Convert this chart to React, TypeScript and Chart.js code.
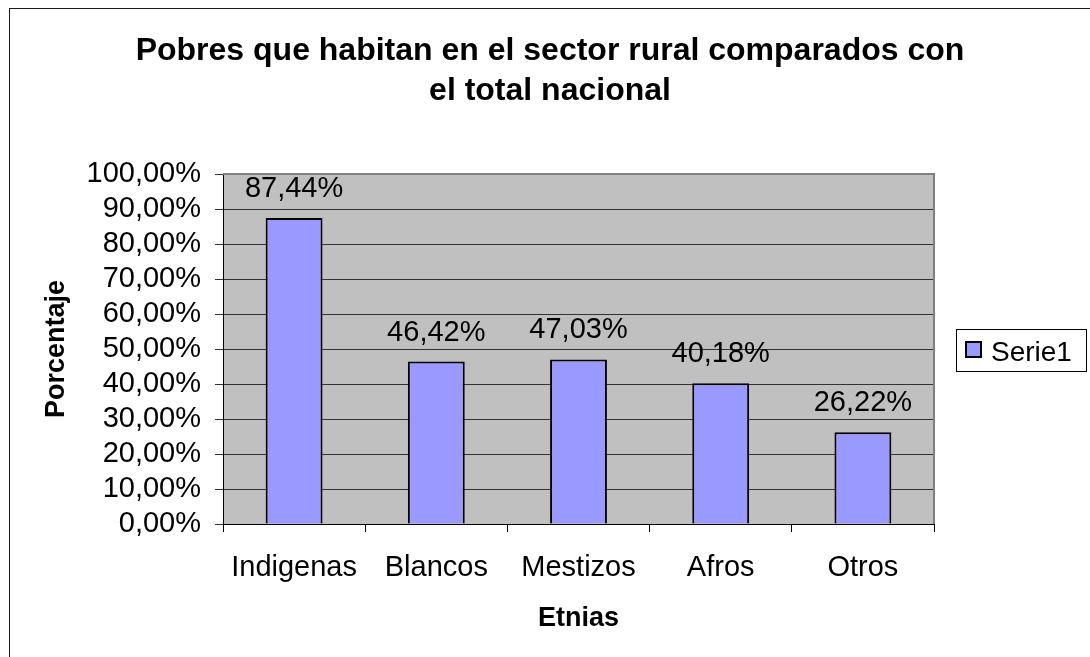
import React, { useEffect, useRef } from "react";
import { Chart, registerables } from "chart.js";

Chart.register(...registerables);

const categories = ["Indigenas", "Blancos", "Mestizos", "Afros", "Otros"];
const values = [87.44, 46.42, 47.03, 40.18, 26.22];
const seriesName = "Serie1";
const titleLines = ["Pobres que habitan en el sector rural comparados con", "el total nacional"];
const yTitle = "Porcentaje";
const xTitle = "Etnias";
const yMin = 0;
const yMax = 100;
const yStep = 10;

const FONT = "'Liberation Sans', Arial, Helvetica, sans-serif";
const BAR_COLOR = "#9999FF";
const PLOT_BG = "#C0C0C0";

const fmt = (v: number) => v.toFixed(2).replace(".", ",") + "%";

const W = 1090;
const H = 657;
const PLOT_L = 223;
const PLOT_R = 934;
const PLOT_T = 174;
const PLOT_B = 524;

const decorPlugin = {
  id: "decor",
  beforeDraw(chart: any) {
    const { ctx, chartArea } = chart;
    ctx.save();
    ctx.fillStyle = "#fff";
    ctx.fillRect(0, 0, W, H);
    // outer chart border
    ctx.strokeStyle = "#1a1a1a";
    ctx.lineWidth = 1;
    ctx.strokeRect(9.5, 8.5, 1400, 1400);
    // plot background
    ctx.fillStyle = PLOT_BG;
    ctx.fillRect(chartArea.left, chartArea.top, chartArea.right - chartArea.left, chartArea.bottom - chartArea.top);
    ctx.restore();
  },
  afterDatasetsDraw(chart: any) {
    const { ctx } = chart;
    const meta = chart.getDatasetMeta(0);
    ctx.save();
    ctx.fillStyle = "#000";
    ctx.font = `29px ${FONT}`;
    ctx.textAlign = "center";
    ctx.textBaseline = "alphabetic";
    meta.data.forEach((bar: any, i: number) => {
      ctx.fillText(fmt(values[i]), bar.x, bar.y - 21);
    });
    ctx.restore();
  },
  afterDraw(chart: any) {
    const { ctx, chartArea } = chart;
    ctx.save();
    // plot area border (top & right, gray)
    ctx.strokeStyle = "#808080";
    ctx.lineWidth = 2;
    ctx.beginPath();
    ctx.moveTo(chartArea.left, chartArea.top);
    ctx.lineTo(chartArea.right, chartArea.top);
    ctx.lineTo(chartArea.right, chartArea.bottom);
    ctx.stroke();

    // title
    ctx.fillStyle = "#000";
    ctx.textAlign = "center";
    ctx.textBaseline = "alphabetic";
    ctx.font = `bold 32px ${FONT}`;
    ctx.fillText(titleLines[0], 550, 60);
    ctx.fillText(titleLines[1], 550, 100);

    // axis titles
    ctx.font = `bold 27px ${FONT}`;
    ctx.fillText(xTitle, (chartArea.left + chartArea.right) / 2, 626);
    ctx.save();
    ctx.translate(64, (chartArea.top + chartArea.bottom) / 2);
    ctx.rotate(-Math.PI / 2);
    ctx.fillText(yTitle, 0, 0);
    ctx.restore();

    // legend
    ctx.strokeStyle = "#000";
    ctx.lineWidth = 1;
    ctx.strokeRect(956.5, 329.5, 130, 42);
    ctx.fillStyle = BAR_COLOR;
    ctx.fillRect(965, 341, 17, 17);
    ctx.lineWidth = 2;
    ctx.strokeRect(966, 342, 15, 15);
    ctx.fillStyle = "#000";
    ctx.textAlign = "left";
    ctx.font = `28px ${FONT}`;
    ctx.fillText(seriesName, 991, 361);
    ctx.restore();
  },
};

export default function App() {
  const ref = useRef<HTMLCanvasElement | null>(null);
  useEffect(() => {
    if (!ref.current) return;
    const chart = new Chart(ref.current, {
      type: "bar",
      data: {
        labels: categories,
        datasets: [
          {
            label: seriesName,
            data: values,
            backgroundColor: BAR_COLOR,
            borderColor: "#000",
            borderWidth: 2,
            categoryPercentage: 1,
            barPercentage: 0.4,
          },
        ],
      },
      options: {
        responsive: false,
        animation: false,
        devicePixelRatio: 1,
        layout: { padding: { left: 0, top: PLOT_T, right: W - PLOT_R, bottom: 0 } },
        plugins: {
          legend: { display: false },
          title: { display: false },
          tooltip: { enabled: false },
        },
        scales: {
          x: {
            grid: { drawOnChartArea: false, drawTicks: true, tickLength: 8, color: "#000", offset: true },
            border: { display: true, color: "#000", width: 1 },
            ticks: { color: "#000", font: { family: FONT, size: 29 }, padding: 19, maxRotation: 0, autoSkip: false },
            afterFit: (s: any) => {
              s.height = H - PLOT_B;
            },
          },
          y: {
            min: yMin,
            max: yMax,
            grid: { color: "#333", lineWidth: 1, drawTicks: true, tickLength: 8 },
            border: { display: true, color: "#000", width: 1 },
            ticks: {
              stepSize: yStep,
              autoSkip: false,
              color: "#000",
              font: { family: FONT, size: 29 },
              padding: 14,
              callback: (v: any) => fmt(Number(v)),
            },
            afterFit: (s: any) => {
              s.width = PLOT_L;
            },
          },
        },
      },
      plugins: [decorPlugin],
    });
    return () => chart.destroy();
  }, []);
  return (
    <div style={{ position: "fixed", left: 0, top: 0, width: W, height: H, background: "#fff" }}>
      <canvas ref={ref} width={W} height={H} style={{ display: "block", width: W, height: H }} />
    </div>
  );
}
